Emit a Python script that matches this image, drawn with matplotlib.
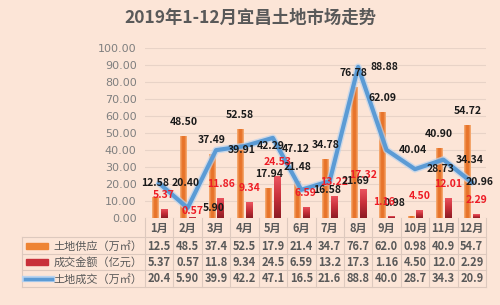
import matplotlib
matplotlib.use("Agg")
import matplotlib.pyplot as plt
import numpy as np
from matplotlib.colors import LinearSegmentedColormap
from matplotlib.lines import Line2D
from matplotlib.patches import Rectangle

plt.rcParams['font.family'] = ['Noto Sans CJK SC', 'DejaVu Sans']

months = ["1月", "2月", "3月", "4月", "5月", "6月", "7月", "8月", "9月", "10月", "11月", "12月"]
supply = [12.58, 48.50, 37.49, 52.58, 17.94, 21.48, 34.78, 76.78, 62.09, 0.98, 40.90, 54.72]
amount = [5.37, 0.57, 11.86, 9.34, 24.53, 6.59, 13.22, 17.32, 1.16, 4.50, 12.01, 2.29]
deal = [20.40, 5.90, 39.91, 42.29, 47.12, 16.58, 21.69, 88.88, 40.04, 28.73, 34.34, 20.96]
supply_tbl = ["12.5", "48.5", "37.4", "52.5", "17.9", "21.4", "34.7", "76.7", "62.0", "0.98", "40.9", "54.7"]
amount_tbl = ["5.37", "0.57", "11.8", "9.34", "24.5", "6.59", "13.2", "17.3", "1.16", "4.50", "12.0", "2.29"]
deal_tbl = ["20.4", "5.90", "39.9", "42.2", "47.1", "16.5", "21.6", "88.8", "40.0", "28.7", "34.3", "20.9"]
series_names = ["土地供应（万㎡）", "成交金额（亿元）", "土地成交（万㎡）"]
title = "2019年1-12月宜昌土地市场走势"

W, H = 500, 305
BG = "#fce5d7"
GRID = "#e8d3c7"
TXT = "#595959"

fig = plt.figure(figsize=(W / 100, H / 100), dpi=100)
fig.patch.set_facecolor(BG)

def fx(px):
    return px / W

def fy(py):
    return 1 - py / H

ax_l, ax_r, ax_t, ax_b = 145, 486, 48, 218
ax = fig.add_axes([fx(ax_l), fy(ax_b), fx(ax_r) - fx(ax_l), fy(ax_t) - fy(ax_b)])
ax.set_facecolor(BG)
for s in ax.spines.values():
    s.set_visible(False)

x = np.arange(len(months))
ax.set_xlim(-0.5, len(months) - 0.5)
ax.set_ylim(0, 100)
ax.set_yticks(np.arange(0, 101, 10))
ax.set_yticklabels([f"{v:.2f}" for v in np.arange(0, 101, 10)], fontsize=8, color="#7f7f7f",
                   family=['DejaVu Sans'])
ax.tick_params(axis='y', length=0, pad=6)
ax.set_xticks([])
ax.grid(axis='y', color=GRID, lw=0.8)
ax.set_axisbelow(True)

# bars with gradients
bw = 0.22
b1 = ax.bar(x - 0.15, supply, width=bw, color="#ee8434", zorder=2)
b2 = ax.bar(x + 0.16, amount, width=bw, color="#c8303a", zorder=2)

orange_cmap = LinearSegmentedColormap.from_list("o", ["#f6b07a", "#e8742a", "#e8742a", "#f6b07a"])
red_cmap = LinearSegmentedColormap.from_list("r", ["#8e1c24", "#c8303a", "#ec5560"])
hgrad = np.linspace(0, 1, 32).reshape(1, -1)
vgrad = np.linspace(0, 1, 32).reshape(-1, 1)
for bar in b1:
    x0, w, h = bar.get_x(), bar.get_width(), bar.get_height()
    im = ax.imshow(hgrad, cmap=orange_cmap, extent=[x0, x0 + w, 0, h], aspect='auto',
                   origin='lower', zorder=2.1)
    im.set_clip_path(bar)
for bar in b2:
    x0, w, h = bar.get_x(), bar.get_width(), bar.get_height()
    im = ax.imshow(vgrad, cmap=red_cmap, extent=[x0, x0 + w, 0, h], aspect='auto',
                   origin='lower', zorder=2.1)
    im.set_clip_path(bar)
ax.set_xlim(-0.5, len(months) - 0.5)
ax.set_ylim(0, 100)

# line
ax.plot(x, deal, color="#b9d3ef", lw=5, alpha=0.7, zorder=3, solid_capstyle='round')
ax.plot(x, deal, color="#5b9bd5", lw=3, zorder=3.1, solid_joinstyle='round')

lab_kw = dict(fontsize=7.5, fontweight='bold', ha='center', va='center', zorder=5,
              textcoords='offset points', annotation_clip=False)
k = 0.72  # px -> pt
sup_off = {9: (-16, 13)}
for i, v in enumerate(supply):
    dx, dy = sup_off.get(i, (0, 14))
    ax.annotate(f"{v:.2f}", (i - 0.15, v), xytext=(dx * k, dy * k), color="#1a1a1a", **lab_kw)
amt_off = {1: (0, 6), 8: (-7, 14)}
for i, v in enumerate(amount):
    dx, dy = amt_off.get(i, (0, 14))
    ax.annotate(f"{v:.2f}", (i + 0.16, v), xytext=(dx * k, dy * k), color="#ee1c25", **lab_kw)
# offsets in pixels: (right, down)
deal_off = {4: (23, 11), 11: (8, 0)}
for i, v in enumerate(deal):
    dx, dy = deal_off.get(i, (26, 0))
    ax.annotate(f"{v:.2f}", (i, v), xytext=(dx * k, -dy * k), color="#1a1a1a", **lab_kw)

# title
fig.text(0.5, fy(18), title, ha='center', va='center', fontsize=12.5, fontweight='bold', color=TXT)

# data table
col_w = (ax_r - ax_l) / len(months)
tbl_left = 22
rows_y = [228, 246, 262, 279]
hlines = [237, 254, 270, 287]
lc = "#ddc9be"
lines = []
for yy in hlines:
    lines.append(Line2D([fx(tbl_left), fx(ax_r)], [fy(yy), fy(yy)], color=lc, lw=0.8))
for j in range(len(months) + 1):
    xx = ax_l + j * col_w
    lines.append(Line2D([fx(xx), fx(xx)], [fy(ax_b), fy(287)], color=lc, lw=0.8))
lines.append(Line2D([fx(tbl_left), fx(tbl_left)], [fy(237), fy(287)], color=lc, lw=0.8))
for ln in lines:
    fig.add_artist(ln)

tkw = dict(ha='center', va='center', fontsize=8, fontweight='bold', color=TXT)
for j, m in enumerate(months):
    cx = fx(ax_l + (j + 0.5) * col_w)
    fig.text(cx, fy(rows_y[0]), m, **tkw)
    fig.text(cx, fy(rows_y[1]), supply_tbl[j], **tkw)
    fig.text(cx, fy(rows_y[2]), amount_tbl[j], **tkw)
    fig.text(cx, fy(rows_y[3]), deal_tbl[j], **tkw)

for r, name in enumerate(series_names):
    fig.text(fx(98), fy(rows_y[r + 1]), name, ha='center', va='center', fontsize=8,
             color=TXT)

fig.add_artist(Rectangle((fx(26), fy(rows_y[1] + 3)), fx(48) - fx(26), fy(rows_y[1] - 3) - fy(rows_y[1] + 3),
                         transform=fig.transFigure, color="#ee8434"))
fig.add_artist(Rectangle((fx(26), fy(rows_y[2] + 3)), fx(48) - fx(26), fy(rows_y[2] - 3) - fy(rows_y[2] + 3),
                         transform=fig.transFigure, color="#c8303a"))
fig.add_artist(Line2D([fx(25), fx(52)], [fy(rows_y[3]), fy(rows_y[3])], color="#b9d3ef", lw=4.5))
fig.add_artist(Line2D([fx(25), fx(52)], [fy(rows_y[3]), fy(rows_y[3])], color="#5b9bd5", lw=2.5))

fig.savefig("out.png", dpi=100, facecolor=BG)
